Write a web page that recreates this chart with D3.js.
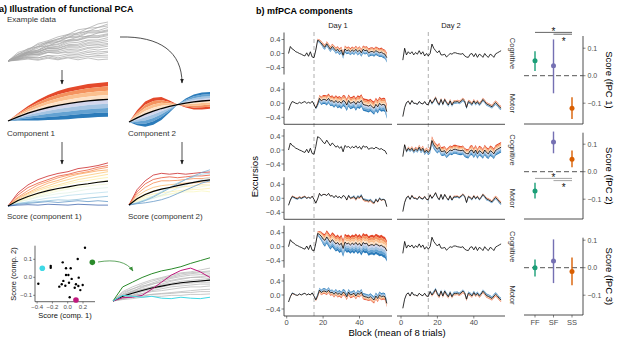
<!DOCTYPE html>
<html><head><meta charset="utf-8">
<script src="https://cdn.jsdelivr.net/npm/d3@7"></script>
<style>body{margin:0;background:#fff}svg{display:block;font-family:"Liberation Sans",Arial,sans-serif}</style>
</head><body><svg id="c" width="617" height="339"></svg>
<script>
// ---------------- DATA: panel a (illustration) ----------------
const exampleCurves = [
[0,.18,.28,.45,.52,.62,.68,.8,.84,.95,1.0],[0,.12,.27,.38,.5,.56,.68,.72,.84,.86,.95],
[0,.22,.3,.42,.48,.57,.6,.72,.76,.86,.9],[0,.1,.24,.33,.47,.54,.66,.68,.77,.78,.86],
[0,.16,.32,.36,.47,.5,.62,.64,.74,.75,.8],[0,.08,.22,.28,.44,.48,.6,.61,.72,.72,.78],
[0,.17,.23,.37,.38,.5,.53,.62,.63,.72,.75],[0,.1,.2,.26,.4,.44,.54,.56,.65,.65,.7],
[0,.14,.24,.28,.38,.42,.52,.54,.62,.62,.68],[0,.06,.17,.23,.35,.38,.5,.53,.6,.6,.65],
[0,.12,.22,.24,.34,.36,.46,.48,.54,.54,.6],[0,.09,.18,.22,.32,.33,.42,.43,.52,.5,.55],
[0,.1,.22,.23,.32,.32,.4,.4,.47,.46,.5],[0,.05,.14,.18,.28,.28,.37,.36,.44,.42,.45],
[0,.12,.2,.2,.27,.28,.34,.33,.4,.38,.42],[0,.08,.16,.16,.24,.24,.3,.28,.35,.34,.38],
[0,.06,.12,.13,.22,.2,.26,.25,.32,.28,.32],[0,.1,.17,.16,.22,.2,.22,.2,.26,.23,.25],
[0,.04,.1,.08,.14,.13,.18,.16,.22,.18,.22],[0,.05,.09,.08,.14,.08,.14,.12,.17,.14,.15],
[0,.03,.07,.04,.1,.05,.1,.08,.12,.1,.1],[0,.02,.05,.02,.07,.03,.08,.03,.08,.03,.05]];
const compMean = [0,.14,.26,.36,.45,.52,.58,.63,.67,.70,.72];
const compPhi1 = [0,.12,.24,.34,.42,.48,.52,.54,.56,.57,.58];
const compPhi2 = [0,.25,.42,.45,.38,.2,0,-.15,-.25,-.28,-.28];
const score1Curves = [
[0,.3,.48,.6,.68,.74,.78,.85,.88,.92,.98],[0,.25,.42,.52,.6,.68,.72,.78,.82,.88,.92],
[0,.2,.35,.48,.56,.64,.7,.74,.78,.84,.88],[0,.18,.3,.42,.52,.58,.66,.72,.76,.8,.82],
[0,.15,.28,.38,.46,.54,.6,.66,.7,.74,.78],[0,.12,.25,.35,.42,.48,.54,.6,.64,.68,.72],
[0,.1,.2,.3,.38,.45,.5,.55,.58,.62,.65],[0,.12,.18,.26,.32,.38,.42,.46,.5,.55,.58],
[0,.08,.15,.22,.28,.34,.38,.42,.45,.48,.5],[0,.1,.14,.2,.24,.28,.3,.34,.38,.4,.42],
[0,.05,.1,.14,.18,.2,.24,.26,.28,.3,.32],[0,.06,.08,.1,.12,.14,.13,.15,.18,.2,.22],
[0,.04,.06,.08,.1,.08,.1,.12,.1,.12,.1],[0,.02,.03,.02,.04,.03,.02,.04,.03,.02,.02]];
const score1Values = [1,.9,.8,.75,.68,.62,.55,.5,.45,.4,.3,.2,.1,0];
const score2Curves = [
[0,.35,.55,.68,.72,.7,.72,.7,.72,.74,.75],[0,.3,.48,.58,.62,.64,.62,.64,.66,.66,.68],
[0,.25,.4,.5,.55,.55,.56,.58,.6,.6,.62],[0,.2,.32,.4,.44,.46,.48,.5,.5,.52,.52],
[0,.15,.25,.32,.36,.38,.4,.42,.44,.46,.45],[0,.12,.2,.25,.28,.3,.32,.34,.35,.36,.38],
[0,.1,.16,.2,.22,.25,.28,.3,.3,.32,.3],[0,.08,.12,.16,.2,.24,.28,.34,.38,.42,.45],
[0,.06,.1,.15,.22,.3,.38,.45,.52,.58,.62],[0,.05,.12,.2,.3,.4,.5,.58,.64,.7,.72],
[0,.04,.1,.18,.28,.38,.48,.58,.66,.74,.8],[0,.03,.05,.08,.12,.18,.26,.34,.42,.5,.55]];
const score2Values = [1,.9,.8,.7,.6,.55,.5,.45,.35,.25,.15,.1];
const illGray = [
[0,.2,.3,.38,.45,.5,.55,.6,.62,.66,.7],[0,.15,.25,.35,.42,.48,.52,.58,.6,.62,.64],
[0,.1,.2,.3,.38,.45,.5,.55,.58,.6,.62],[0,.12,.22,.28,.35,.42,.48,.52,.55,.56,.58],
[0,.18,.26,.32,.36,.4,.44,.48,.5,.52,.55],[0,.08,.15,.22,.3,.36,.42,.46,.5,.5,.52],
[0,.1,.18,.25,.3,.34,.38,.42,.44,.46,.48],[0,.06,.12,.2,.25,.3,.35,.38,.4,.42,.45],
[0,.14,.2,.24,.28,.3,.34,.36,.38,.4,.4],[0,.05,.1,.16,.22,.26,.3,.32,.34,.36,.36],
[0,.08,.12,.15,.2,.22,.25,.28,.3,.3,.32],[0,.04,.08,.1,.14,.16,.18,.2,.22,.24,.25],
[0,.06,.1,.12,.14,.15,.16,.18,.18,.2,.2],[0,.03,.05,.08,.1,.1,.12,.12,.14,.14,.15]];
const illGreen = [0,.3,.4,.5,.58,.64,.68,.73,.8,.86,.92];
const illMagenta = [0,.07,.08,.12,.25,.4,.55,.65,.7,.62,.5];
const illCyan = [0,.12,.1,.08,.1,.06,.05,.08,.06,.05,.08];
const scatterX = [.226,.131,-.065,-.222,-.222,-.022,.039,-.022,.009,.052,-.057,.017,.144,.108,.139,.196,-.11,-.078,-.031,.092,.165,-.384,.026];
const scatterY = [.164,.102,.083,.063,.053,.05,.05,.013,.013,-.009,-.02,-.03,-.002,-.039,-.048,-.043,-.052,-.039,-.047,-.058,-.071,-.036,-.111];
const highlightX = [-.332,.322,.108];
const highlightY = [.05,.083,-.126];
const highlightCol = ["#3fd9e6","#2a8a2a","#c0187c"];
const scatterXTicks = [-0.4,-0.2,0.0,0.2];
const scatterYTicks = [-0.1,0.0,0.1];

// ---------------- DATA: panel b (mfPCA) ----------------
const blocks = d3.range(1,56);
const cogMeanD1 = [0.0,0.2,0.13,0.1,0.05,0.03,0.0,-0.02,-0.05,-0.07,0.02,-0.08,0.05,-0.1,-0.12,0.1,0.38,0.35,0.3,0.22,0.18,0.28,0.2,0.12,0.2,0.15,0.08,0.12,0.05,0.1,-0.05,0.13,0.08,0.1,0.05,0.1,0.06,0.12,0.05,0.1,0.02,0.12,0.08,0.1,0.02,0.05,0.06,0.03,0.08,0.05,0.02,0.04,0.0,-0.02,-0.12];
const cogMeanD2 = [-0.19,0.15,-0.04,0.05,-0.01,0.05,-0.04,0.03,-0.02,0.08,-0.02,0.05,-0.07,0.0,-0.07,0.0,0.27,0.15,0.08,0.02,0.08,-0.04,-0.04,-0.02,-0.1,-0.05,0.0,-0.02,0.02,0.02,0.0,-0.01,-0.02,0.0,-0.07,-0.1,-0.11,-0.02,0.0,-0.09,0.0,-0.11,-0.02,-0.05,-0.11,0.0,-0.07,-0.11,-0.02,-0.05,-0.11,-0.01,0.02,0.05,0.08];
const motMeanD1 = [-0.2,-0.05,0.05,0.03,0.0,-0.01,0.03,0.0,0.03,0.05,0.0,0.03,0.0,0.06,-0.03,-0.14,-0.02,0.14,0.07,0.11,0.11,0.08,0.14,0.06,0.08,0.02,0.08,0.02,0.05,0.0,0.08,0.05,-0.05,0.08,0.0,0.02,0.05,-0.03,0.05,0.02,0.08,-0.03,-0.05,-0.06,-0.08,-0.05,-0.1,-0.14,-0.03,-0.1,0.0,-0.05,-0.03,-0.05,-0.24];
const motMeanD2 = [-0.38,-0.12,0.02,0.06,-0.03,0.08,0.0,0.0,-0.03,0.05,0.0,-0.02,0.05,-0.03,-0.04,0.1,0.0,0.07,0.16,0.03,-0.04,0.11,-0.03,0.11,0.02,-0.05,0.07,-0.05,0.04,0.04,0.05,0.02,0.06,0.11,0.06,-0.12,0.05,0.02,-0.03,0.07,-0.01,0.05,-0.03,0.02,0.11,0.05,-0.02,-0.04,-0.07,-0.1,-0.03,0.02,-0.03,-0.1,-0.14];
const zero55 = [0,0,0,0,0,0,0,0,0,0,0,0,0,0,0,0,0,0,0,0,0,0,0,0,0,0,0,0,0,0,0,0,0,0,0,0,0,0,0,0,0,0,0,0,0,0,0,0,0,0,0,0,0,0,0];
const ipc1CogD1 = [0,0,0,0,0,0,0,0,0,0,0,0,0,0,0,0.02,0.04,0.05,0.06,0.07,0.07,0.07,0.08,0.08,0.08,0.08,0.09,0.09,0.09,0.09,0.1,0.1,0.1,0.1,0.1,0.1,0.1,0.1,0.11,0.11,0.11,0.11,0.11,0.11,0.12,0.12,0.12,0.12,0.12,0.12,0.12,0.13,0.13,0.13,0.14];
const ipc1CogD2 = zero55;
const ipc1MotD1 = [0,0,0,0,0,0,0,0,0,0,0,0,0,0,0,0.03,0.07,0.1,0.12,0.13,0.13,0.14,0.14,0.14,0.15,0.15,0.15,0.16,0.16,0.16,0.16,0.17,0.17,0.17,0.17,0.17,0.17,0.18,0.18,0.18,0.18,0.18,0.18,0.18,0.18,0.18,0.18,0.19,0.19,0.19,0.19,0.19,0.19,0.2,0.2];
const ipc1MotD2 = [0,0.01,0.01,0.01,0.01,0.01,0.01,0.01,0.01,0.01,0.01,0.01,0.01,0.01,0.01,0.03,0.04,0.04,0.04,0.04,0.04,0.04,0.04,0.04,0.04,0.05,0.05,0.05,0.05,0.05,0.05,0.05,0.05,0.05,0.05,0.05,0.05,0.05,0.05,0.05,0.05,0.05,0.05,0.05,0.05,0.05,0.05,0.05,0.05,0.05,0.06,0.06,0.06,0.06,0.06];
const ipc2CogD1 = zero55;
const ipc2CogD2 = [0,0.03,0.04,0.05,0.05,0.06,0.06,0.06,0.06,0.07,0.07,0.07,0.07,0.07,0.07,0.1,0.12,0.12,0.12,0.12,0.12,0.12,0.13,0.13,0.13,0.13,0.13,0.13,0.13,0.13,0.13,0.13,0.13,0.13,0.13,0.13,0.13,0.14,0.14,0.14,0.14,0.14,0.14,0.14,0.14,0.15,0.15,0.15,0.15,0.15,0.15,0.15,0.15,0.15,0.15];
const ipc2MotD1 = [0,0.03,0.03,0.03,0.03,0.03,0.03,0.03,0.03,0.02,0.02,0.01,0.01,0.01,0.01,0.01,0.01,0.01,0.01,0.01,0.01,0.01,0.01,0.01,0.01,0.01,0.01,0.01,0.01,0.0,0.0,0.0,-0.01,-0.02,-0.03,-0.03,-0.04,-0.04,-0.04,-0.04,-0.04,-0.04,-0.04,-0.04,-0.04,-0.04,-0.04,-0.03,-0.03,-0.03,-0.03,-0.03,-0.02,-0.02,-0.02];
const ipc2MotD2 = [0,0.02,0.02,0.02,0.02,0.02,0.02,0.02,0.02,0.02,0.02,0.02,0.02,0.02,0.02,0.02,0.02,0.02,0.02,0.02,0.02,0.02,0.02,0.02,0.02,0.03,0.03,0.03,0.03,0.03,0.03,0.03,0.03,0.03,0.03,0.03,0.03,0.03,0.03,0.03,0.03,0.03,0.03,0.03,0.03,0.04,0.04,0.04,0.04,0.04,0.05,0.05,0.05,0.05,0.05];
const ipc3CogD1 = [0,0,0,0,0,0,0,0,0,0,0,0,0,0,0,0.03,0.06,0.1,0.13,0.16,0.18,0.19,0.2,0.21,0.21,0.22,0.22,0.23,0.23,0.24,0.24,0.24,0.25,0.25,0.25,0.25,0.26,0.26,0.26,0.26,0.27,0.27,0.27,0.27,0.28,0.28,0.28,0.28,0.29,0.29,0.29,0.3,0.3,0.3,0.3];
const ipc3CogD2 = zero55;
const ipc3MotD1 = [0,-0.02,-0.02,-0.02,-0.01,-0.01,-0.01,-0.01,-0.01,-0.01,-0.01,-0.01,-0.01,-0.01,-0.01,-0.04,-0.06,-0.07,-0.08,-0.08,-0.08,-0.08,-0.08,-0.08,-0.08,-0.09,-0.09,-0.09,-0.09,-0.09,-0.09,-0.09,-0.09,-0.09,-0.09,-0.09,-0.09,-0.09,-0.09,-0.09,-0.09,-0.09,-0.09,-0.09,-0.09,-0.1,-0.1,-0.1,-0.1,-0.1,-0.1,-0.1,-0.1,-0.1,-0.1];
const ipc3MotD2 = [0,-0.01,-0.01,-0.01,-0.01,-0.01,-0.01,-0.01,-0.01,-0.01,-0.01,-0.01,-0.01,-0.01,-0.01,-0.03,-0.04,-0.05,-0.05,-0.05,-0.05,-0.05,-0.05,-0.05,-0.05,-0.05,-0.05,-0.05,-0.05,-0.05,-0.05,-0.05,-0.05,-0.05,-0.05,-0.05,-0.05,-0.05,-0.05,-0.05,-0.05,-0.05,-0.05,-0.05,-0.05,-0.06,-0.06,-0.06,-0.06,-0.06,-0.06,-0.06,-0.06,-0.06,-0.06];
const days = ["Day 1","Day 2"];
const modalities = ["Cognitive","Motor"];
const blockTicks = [0,20,40];
const excursionTicks = [-0.4,0.0,0.4];
const groupsCat = ["FF","SF","SS"];
const groupColors = ["#1b9e77","#7570b3","#d95f02"];
const fpc1Mean = [0.054,0.036,-0.118], fpc1Lo = [0.017,-0.064,-0.157], fpc1Hi = [0.089,0.132,-0.078];
const fpc2Mean = [-0.07,0.108,0.045], fpc2Lo = [-0.097,0.067,0.016], fpc2Hi = [-0.04,0.146,0.077];
const fpc3Mean = [0.0,0.024,-0.014], fpc3Lo = [-0.032,-0.056,-0.064], fpc3Hi = [0.03,0.103,0.037];
const scoreTicks = [-0.1,0.0,0.1];
const bandAbove = ["#e4492b","#f4935f","#fbc08f","#fde2c8"];
const bandBelow = ["#d3d6ec","#a5c4e2","#64a2d2","#2b7bba"];

// ---------------- DRAW ----------------
const svg = d3.select("#c");
const defs = svg.append("defs");
function marker(id,col){defs.append("marker").attr("id",id).attr("viewBox","0 0 10 10").attr("refX",9).attr("refY",5)
 .attr("markerWidth",5).attr("markerHeight",5).attr("markerUnits","userSpaceOnUse").attr("orient","auto")
 .append("path").attr("d","M0,1L10,5L0,9z").attr("fill",col);}
marker("ah","#222"); marker("ahg","#3a8f3a");
const txt=(x,y,s,o={})=>{const t=svg.append("text").attr("x",x).attr("y",y).text(s)
 .attr("font-size",o.size||8).attr("fill",o.fill||"#222").attr("text-anchor",o.anchor||"start");
 if(o.weight)t.attr("font-weight",o.weight); if(o.rot!==undefined)t.attr("transform",`rotate(${o.rot},${x},${y})`); return t;};

// ---- panel a
txt(-1,12,"a) Illustration of functional PCA",{size:9,weight:"bold",fill:"#000"});
function curvePanel(curves,x0,x1,yb,h,colFn,w){
 const x=d3.scaleLinear().domain([0,curves[0].length-1]).range([x0,x1]);
 const y=d3.scaleLinear().domain([0,1]).range([yb,yb-h]);
 const line=d3.line().x((d,i)=>x(i)).y(d=>y(d));
 curves.forEach((c,j)=>svg.append("path").attr("d",line(c)).attr("fill","none").attr("stroke",colFn(j)).attr("stroke-width",w));
 return {x,y,line};
}
const meanOf=cs=>cs[0].map((_,i)=>d3.mean(cs,c=>c[i]));
txt(7,22,"Example data",{size:8,fill:"#333"});
curvePanel(exampleCurves,8,108,61,39,()=>"#a6a6a6",0.7);

function bandPanel(mean,phi,x0,x1,yb,h){
 const x=d3.scaleLinear().domain([0,mean.length-1]).range([x0,x1]);
 const y=d3.scaleLinear().domain([0,1]).range([yb,yb-h]);
 drawBands(mean,phi,x,y,i=>i);
 svg.append("path").attr("d",d3.line().x((d,i)=>x(i)).y(d=>y(d))(mean)).attr("fill","none").attr("stroke","#000").attr("stroke-width",1.3);
}
function drawBands(mean,phi,x,y,xi){
 const lv=[1,0.75,0.5,0.25,0];
 for(let k=0;k<4;k++){
  const a=d3.area().x((d,i)=>x(xi(i))).y0((d,i)=>y(mean[i]+phi[i]*lv[k+1])).y1((d,i)=>y(mean[i]+phi[i]*lv[k]));
  svg.append("path").attr("d",a(mean)).attr("fill",bandAbove[k]);
  const b=d3.area().x((d,i)=>x(xi(i))).y0((d,i)=>y(mean[i]-phi[i]*lv[3-k])).y1((d,i)=>y(mean[i]-phi[i]*lv[4-k]));
  svg.append("path").attr("d",b(mean)).attr("fill",bandBelow[k]);
 }
}
bandPanel(compMean,compPhi1,8,108,121,30);
bandPanel(compMean,compPhi2,129,210,122,30);
txt(7,136,"Component 1",{size:8,fill:"#333"});
txt(128,136,"Component 2",{size:8,fill:"#333"});
const arrow=(d,id)=>svg.append("path").attr("d",d).attr("fill","none").attr("stroke",id==="ahg"?"#3a8f3a":"#222").attr("stroke-width",0.8).attr("marker-end",`url(#${id})`);
arrow("M62,70L62,84","ah");
arrow("M120,37C160,36 182,52 182,83","ah");
arrow("M62,142L62,164","ah");
arrow("M182,142L182,164","ah");
const scoreCol=v=>d3.interpolateRdYlBu(0.08+0.84*(1-v));
const s1=curvePanel(score1Curves,8,108,206,44,j=>scoreCol(score1Values[j]),0.8);
svg.append("path").attr("d",s1.line(meanOf(score1Curves))).attr("fill","none").attr("stroke","#000").attr("stroke-width",1.2);
const s2=curvePanel(score2Curves,129,210,205,44,j=>scoreCol(score2Values[j]),0.8);
svg.append("path").attr("d",s2.line(meanOf(score2Curves))).attr("fill","none").attr("stroke","#000").attr("stroke-width",1.2);
txt(7,219,"Score (component 1)",{size:8,fill:"#333"});
txt(128,219,"Score (component 2)",{size:8,fill:"#333"});

// scatter
const sx=d3.scaleLinear().domain([0,0.2]).range([67.7,83]);
const sy=d3.scaleLinear().domain([0,0.1]).range([277.3,259.3]);
svg.append("line").attr("x1",35).attr("x2",35).attr("y1",245.7).attr("y2",301.7).attr("stroke","#222").attr("stroke-width",0.7);
svg.append("line").attr("x1",35).attr("x2",95).attr("y1",301.7).attr("y2",301.7).attr("stroke","#222").attr("stroke-width",0.7);
scatterXTicks.forEach(v=>{svg.append("line").attr("x1",sx(v)).attr("x2",sx(v)).attr("y1",301.7).attr("y2",303.5).attr("stroke","#333").attr("stroke-width",0.6);
 txt(sx(v),309,d3.format(".1f")(v),{size:6,anchor:"middle",fill:"#4d4d4d"});});
scatterYTicks.forEach(v=>{svg.append("line").attr("x1",33.2).attr("x2",35).attr("y1",sy(v)).attr("y2",sy(v)).attr("stroke","#333").attr("stroke-width",0.6);
 txt(32,sy(v)+2,d3.format(".1f")(v),{size:6,anchor:"end",fill:"#4d4d4d"});});
txt(65,318,"Score (comp. 1)",{size:7.5,anchor:"middle",fill:"#111"});
txt(15.5,274,"Score (comp. 2)",{size:7.5,anchor:"middle",fill:"#111",rot:-90});
scatterX.forEach((v,i)=>svg.append("circle").attr("cx",sx(v)).attr("cy",sy(scatterY[i])).attr("r",1.2).attr("fill","#000"));
highlightX.forEach((v,i)=>svg.append("circle").attr("cx",sx(v)).attr("cy",sy(highlightY[i])).attr("r",2.8).attr("fill",highlightCol[i]));
arrow("M98,262C115,259 127,262 133,271","ahg");
const il=curvePanel(illGray,113,210,301,47,()=>"#b3b3b3",0.7);
svg.append("path").attr("d",il.line(meanOf(illGray))).attr("fill","none").attr("stroke","#000").attr("stroke-width",1.1);
[[illGreen,highlightCol[1]],[illMagenta,highlightCol[2]],[illCyan,highlightCol[0]]].forEach(([c,col])=>
 svg.append("path").attr("d",il.line(c)).attr("fill","none").attr("stroke",col).attr("stroke-width",1));

// ---- panel b
txt(256,14,"b) mfPCA components",{size:9,weight:"bold",fill:"#000"});
const xDay=[d3.scaleLinear().domain([0,55]).range([286.7,386.8]), d3.scaleLinear().domain([0,55]).range([401,501.1])];
const dayExt=[[284,392],[397,505]];
days.forEach((d,i)=>txt((dayExt[i][0]+dayExt[i][1])/2,28,d,{size:7.5,anchor:"middle",fill:"#1a1a1a"}));
const rows=[
 {zero:53.5,mod:0,means:[cogMeanD1,cogMeanD2],phis:[ipc1CogD1,ipc1CogD2]},
 {zero:103.3,mod:1,means:[motMeanD1,motMeanD2],phis:[ipc1MotD1,ipc1MotD2],bottom:true},
 {zero:150,mod:0,means:[cogMeanD1,cogMeanD2],phis:[ipc2CogD1,ipc2CogD2]},
 {zero:198.3,mod:1,means:[motMeanD1,motMeanD2],phis:[ipc2MotD1,ipc2MotD2],bottom:true},
 {zero:246.7,mod:0,means:[cogMeanD1,cogMeanD2],phis:[ipc3CogD1,ipc3CogD2]},
 {zero:295,mod:1,means:[motMeanD1,motMeanD2],phis:[ipc3MotD1,ipc3MotD2],bottom:true,labels:true}];
xDay.forEach(x=>svg.append("line").attr("x1",x(15)).attr("x2",x(15)).attr("y1",32).attr("y2",316)
 .attr("stroke","#9a9a9a").attr("stroke-width",0.8).attr("stroke-dasharray","4,3"));
rows.forEach(r=>{
 const y=d3.scaleLinear().domain([-0.6,0.6]).range([r.zero+21,r.zero-21]);
 [0,1].forEach(di=>{
  const x=xDay[di];
  drawBands(r.means[di],r.phis[di],x,y,i=>blocks[i]);
  svg.append("path").attr("d",d3.line().x((d,i)=>x(blocks[i])).y(d=>y(d))(r.means[di])).attr("fill","none").attr("stroke","#000").attr("stroke-width",0.8);
  if(r.bottom){
   svg.append("line").attr("x1",dayExt[di][0]).attr("x2",dayExt[di][1]).attr("y1",r.zero+21).attr("y2",r.zero+21).attr("stroke","#222").attr("stroke-width",0.8);
   if(r.labels) blockTicks.forEach(t=>{svg.append("line").attr("x1",x(t)).attr("x2",x(t)).attr("y1",r.zero+21).attr("y2",r.zero+23.5).attr("stroke","#333").attr("stroke-width",0.6);
     txt(x(t),r.zero+30,t,{size:7.5,anchor:"middle",fill:"#4d4d4d"});});
  }
 });
 svg.append("line").attr("x1",284).attr("x2",284).attr("y1",r.zero-21).attr("y2",r.zero+21).attr("stroke","#222").attr("stroke-width",0.8);
 excursionTicks.forEach(t=>{svg.append("line").attr("x1",281.5).attr("x2",284).attr("y1",y(t)).attr("y2",y(t)).attr("stroke","#333").attr("stroke-width",0.6);
  txt(280.5,y(t)+2.6,d3.format(".1f")(t),{size:7.5,anchor:"end",fill:"#4d4d4d"});});
 txt(510,r.zero,modalities[r.mod],{size:7.5,anchor:"middle",fill:"#333",rot:90});
});
txt(258,176.7,"Excursios",{size:9.5,anchor:"middle",fill:"#000",rot:-90});
txt(397,336,"Block (mean of 8 trials)",{size:9.5,anchor:"middle",fill:"#000"});

// dot plots
const gx=d3.scalePoint().domain(groupsCat).range([535,572]);
const dots=[
 {zero:75.7,top:36,bot:124,m:fpc1Mean,lo:fpc1Lo,hi:fpc1Hi,lab:"Score (fPC 1)",sig:"#555",sigY:[32.4,34.2],star:[34.9,44.6]},
 {zero:171.7,top:132.7,bot:219,m:fpc2Mean,lo:fpc2Lo,hi:fpc2Hi,lab:"Score (fPC 2)",sig:"#9a9a9a",sigY:[178.4,180.6],star:[180.6,190.6]},
 {zero:267.7,top:237.7,bot:315,m:fpc3Mean,lo:fpc3Lo,hi:fpc3Hi,lab:"Score (fPC 3)",ticks:true}];
dots.forEach(g=>{
 const y=d3.scaleLinear().domain([0,0.1]).range([g.zero,g.zero-27.5]);
 svg.append("line").attr("x1",583).attr("x2",583).attr("y1",g.top).attr("y2",g.bot).attr("stroke","#222").attr("stroke-width",0.8);
 svg.append("line").attr("x1",524).attr("x2",583).attr("y1",g.bot).attr("y2",g.bot).attr("stroke","#222").attr("stroke-width",0.8);
 scoreTicks.forEach(t=>{svg.append("line").attr("x1",583).attr("x2",585.5).attr("y1",y(t)).attr("y2",y(t)).attr("stroke","#333").attr("stroke-width",0.6);
  txt(587.5,y(t)+2.5,d3.format(".1f")(t),{size:7,fill:"#4d4d4d"});});
 svg.append("line").attr("x1",524).attr("x2",583).attr("y1",y(0)).attr("y2",y(0)).attr("stroke","#555").attr("stroke-width",1).attr("stroke-dasharray","5,3");
 groupsCat.forEach((c,i)=>{
  svg.append("line").attr("x1",gx(c)).attr("x2",gx(c)).attr("y1",y(g.lo[i])).attr("y2",y(g.hi[i])).attr("stroke",groupColors[i]).attr("stroke-width",1.4);
  svg.append("circle").attr("cx",gx(c)).attr("cy",y(g.m[i])).attr("r",2.5).attr("fill",groupColors[i]);
  if(g.ticks){svg.append("line").attr("x1",gx(c)).attr("x2",gx(c)).attr("y1",g.bot).attr("y2",g.bot+2.5).attr("stroke","#333").attr("stroke-width",0.6);
   txt(gx(c),g.bot+10,c,{size:7.5,anchor:"middle",fill:"#4d4d4d"});}
 });
 if(g.sig){
  svg.append("line").attr("x1",gx("FF")).attr("x2",gx("SS")).attr("y1",g.sigY[0]).attr("y2",g.sigY[0]).attr("stroke",g.sig).attr("stroke-width",0.9);
  svg.append("line").attr("x1",gx("SF")).attr("x2",gx("SS")).attr("y1",g.sigY[1]).attr("y2",g.sigY[1]).attr("stroke",g.sig).attr("stroke-width",0.9);
  txt(gx("SF"),g.star[0],"*",{size:10,anchor:"middle",fill:"#111"});
  txt((gx("SF")+gx("SS"))/2+1,g.star[1],"*",{size:10,anchor:"middle",fill:"#111"});
 }
 txt(606,(g.top+g.bot)/2,g.lab,{size:9.5,anchor:"middle",fill:"#000",rot:90});
});
</script></body></html>
